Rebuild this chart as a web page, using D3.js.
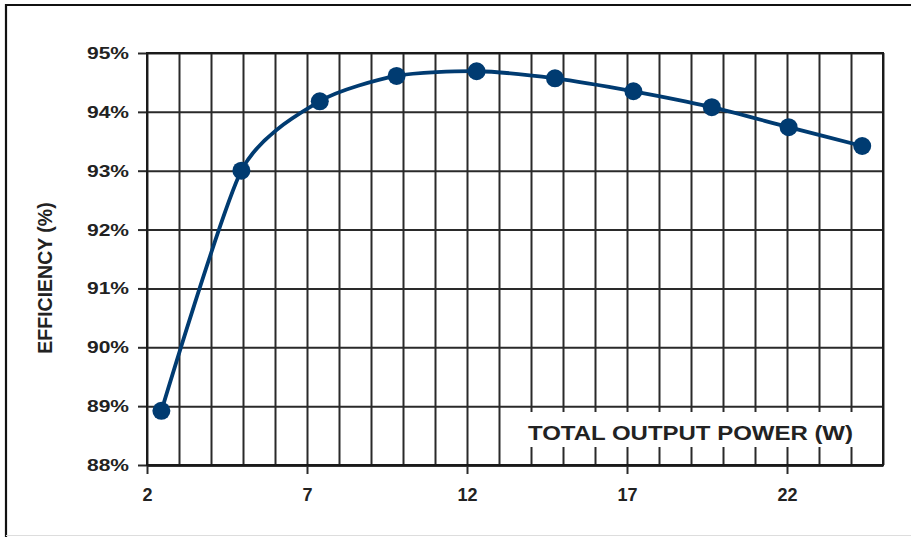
<!DOCTYPE html>
<html>
<head>
<meta charset="utf-8">
<script src="https://cdn.jsdelivr.net/npm/d3@7"></script>
<style>
  html, body { margin: 0; padding: 0; background: #fff; }
  svg text { font-family: "Liberation Sans", Arial, sans-serif; font-weight: bold; fill: #222; }
</style>
</head>
<body>
<div id="chart"></div>
<script>
const width = 911;
const height = 537;
const margin = { top: 53, right: 28, bottom: 72, left: 147 };

// Data
const power = [2.45, 4.95, 7.4, 9.8, 12.3, 14.75, 17.2, 19.65, 22.05, 24.35];
const efficiency = [88.92, 93.0, 94.18, 94.61, 94.69, 94.57, 94.35, 94.08, 93.74, 93.42];
const xMajorTicks = [2, 7, 12, 17, 22];
const xGridTicks = d3.range(2, 26);
const yTicks = [88, 89, 90, 91, 92, 93, 94, 95];

const points = power.map((p, i) => ({ x: p, y: efficiency[i] }));

const svg = d3.select("#chart")
  .append("svg")
  .attr("width", width)
  .attr("height", height);

// Outer frame (left + top dark, bottom faint)
svg.append("path")
  .attr("d", `M6,${height}V5H${width}`)
  .attr("fill", "none")
  .attr("stroke", "#111")
  .attr("stroke-width", 2.2);
svg.append("line")
  .attr("x1", 6).attr("x2", width)
  .attr("y1", height - 1.5).attr("y2", height - 1.5)
  .attr("stroke", "#ddd")
  .attr("stroke-width", 1);

const x = d3.scaleLinear()
  .domain([2, 25])
  .range([margin.left, width - margin.right]);

const y = d3.scaleLinear()
  .domain([88, 95])
  .range([height - margin.bottom, margin.top]);

const plotW = width - margin.left - margin.right;
const plotH = height - margin.top - margin.bottom;

// Vertical grid
svg.append("g")
  .attr("transform", `translate(0,${height - margin.bottom})`)
  .call(d3.axisBottom(x).tickValues(xGridTicks).tickSize(-plotH).tickSizeOuter(0).tickFormat(""))
  .call(g => g.select(".domain").remove())
  .call(g => g.selectAll("line").attr("stroke", "#2a2a2a").attr("stroke-width", 2));

// Horizontal grid
svg.append("g")
  .attr("transform", `translate(${margin.left},0)`)
  .call(d3.axisLeft(y).tickValues(yTicks).tickSize(-plotW).tickSizeOuter(0).tickFormat(""))
  .call(g => g.select(".domain").remove())
  .call(g => g.selectAll("line").attr("stroke", "#2a2a2a").attr("stroke-width", 2));

// Y axis ticks and labels
svg.append("g")
  .attr("transform", `translate(${margin.left},0)`)
  .call(d3.axisLeft(y).tickValues(yTicks).tickSize(9).tickSizeOuter(0).tickPadding(9).tickFormat(d => d + "%"))
  .call(g => g.select(".domain").remove())
  .call(g => g.selectAll("line").attr("stroke", "#2a2a2a").attr("stroke-width", 2))
  .call(g => g.selectAll("text")
    .attr("font-size", "17px")
    .attr("textLength", 42)
    .attr("lengthAdjust", "spacingAndGlyphs")
    .attr("fill", "#222"));

// X axis ticks and labels
svg.append("g")
  .attr("transform", `translate(0,${height - margin.bottom})`)
  .call(d3.axisBottom(x).tickValues(xMajorTicks).tickSize(9).tickSizeOuter(0).tickPadding(14))
  .call(g => g.select(".domain").attr("stroke", "#111").attr("stroke-width", 2.4))
  .call(g => g.selectAll("line").attr("stroke", "#2a2a2a").attr("stroke-width", 2))
  .call(g => g.selectAll("text").attr("font-size", "18px").attr("fill", "#222"));

// Plot border
svg.append("rect")
  .attr("x", margin.left)
  .attr("y", margin.top)
  .attr("width", plotW)
  .attr("height", plotH)
  .attr("fill", "none")
  .attr("stroke", "#1a1a1a")
  .attr("stroke-width", 2);

// X axis title on a white box inside the plot
svg.append("rect")
  .attr("x", 519)
  .attr("y", 412)
  .attr("width", width - margin.right - 519 - 1)
  .attr("height", 35)
  .attr("fill", "#fff");

svg.append("text")
  .attr("x", 528)
  .attr("y", 440)
  .attr("font-size", "20px")
  .attr("textLength", 325)
  .attr("lengthAdjust", "spacingAndGlyphs")
  .text("TOTAL OUTPUT POWER (W)");

// Y axis title
svg.append("text")
  .attr("transform", "rotate(-90)")
  .attr("x", -278)
  .attr("y", 52)
  .attr("text-anchor", "middle")
  .attr("font-size", "19.5px")
  .text("EFFICIENCY (%)");

// Curve
const line = d3.line()
  .x(d => x(d.x))
  .y(d => y(d.y))
  .curve(d3.curveCardinal.tension(0.3));

svg.append("path")
  .datum(points)
  .attr("d", line)
  .attr("fill", "none")
  .attr("stroke", "#003b71")
  .attr("stroke-width", 3.8);

svg.selectAll(".pt")
  .data(points)
  .join("circle")
  .attr("class", "pt")
  .attr("cx", d => x(d.x))
  .attr("cy", d => y(d.y))
  .attr("r", 9)
  .attr("fill", "#003b71");
</script>
</body>
</html>
